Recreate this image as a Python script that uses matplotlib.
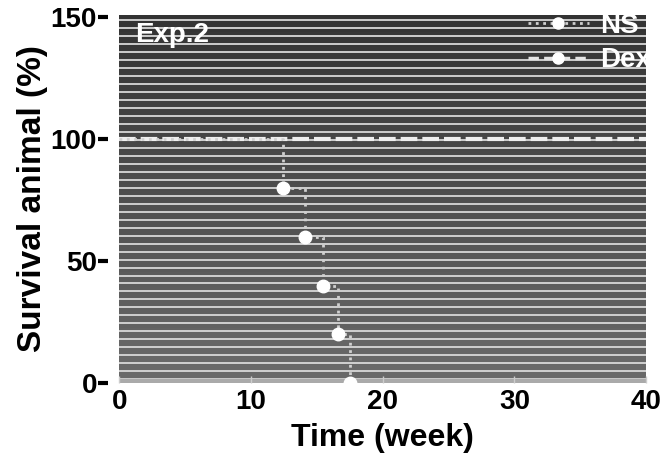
import matplotlib.pyplot as plt
import numpy as np

# survival data
ns_time = [0, 12.4, 14.1, 15.5, 16.6, 17.5]
ns_surv = [100, 80, 60, 40, 20, 0]
dex_time = [0, 40]
dex_surv = [100, 100]

xticks = [0, 10, 20, 30, 40]
yticks = [0, 50, 100, 150]

plt.rcParams['font.family'] = ['Liberation Sans', 'DejaVu Sans']

fig = plt.figure(figsize=(6.62, 4.66), dpi=100)
ax = fig.add_axes([0.18, 0.178, 0.796, 0.79])
ax.spines['left'].set_position(('outward', 8))

# dark gradient background with white stripes
grad = np.linspace(0.2, 0.42, 100).reshape(-1, 1)
ax.imshow(grad, extent=[0, 40, 0, 151], aspect='auto', cmap='gray', vmin=0, vmax=1,
          origin='upper', zorder=0)
for yy in np.arange(1.6, 151, 3.27):
    ax.axhline(yy, color='#d8d8d8', lw=1.3, zorder=1)
ax.axhspan(0, 1.6, color='#aaaaaa', zorder=1)

ax.plot(dex_time, dex_surv, ls=(0, (4, 1.2)), color='#eeeeee', lw=3, zorder=3)
ax.step(ns_time, ns_surv, where='post', ls=':', color='#d0d0d0', lw=2, zorder=3)
ax.plot(ns_time[1:], ns_surv[1:], 'o', ms=9, color='white', zorder=4)

# legend handles
ax.plot([], [], ls=':', color='#d0d0d0', lw=2, marker='o', ms=8, mfc='white', mec='white', label='NS')
ax.plot([], [], ls=(0, (3, 1.5)), color='#e4e4e4', lw=2.5, marker='o', ms=8, mfc='white', mec='white', label='Dex')
leg = ax.legend(loc='upper right', frameon=False, fontsize=20, handlelength=2.2,
                borderaxespad=0.0, bbox_to_anchor=(1.03, 1.035), labelspacing=0.3,
                handletextpad=0.4)
for t in leg.get_texts():
    t.set_color('white')
    t.set_fontweight('bold')

ax.text(0.03, 0.98, 'Exp.2', transform=ax.transAxes, color='white', fontsize=20,
        fontweight='bold', va='top')

ax.set_xlim(0, 40)
ax.set_ylim(0, 151)
ax.set_xticks(xticks)
ax.set_yticks(yticks)
ax.set_xticklabels([str(v) for v in xticks], fontsize=20, fontweight='bold')
ax.set_yticklabels([str(v) for v in yticks], fontsize=20, fontweight='bold')
ax.tick_params(axis='y', direction='out', length=7, width=3, pad=1)
ax.tick_params(axis='x', direction='in', length=5, width=1, color='#cccccc', pad=4)
for s in ax.spines.values():
    s.set_visible(False)

ax.set_xlabel('Time (week)', fontsize=23, fontweight='bold', labelpad=6)
ax.set_ylabel('Survival animal (%)', fontsize=24, fontweight='bold', labelpad=2)

fig.savefig('out.png', dpi=100)
